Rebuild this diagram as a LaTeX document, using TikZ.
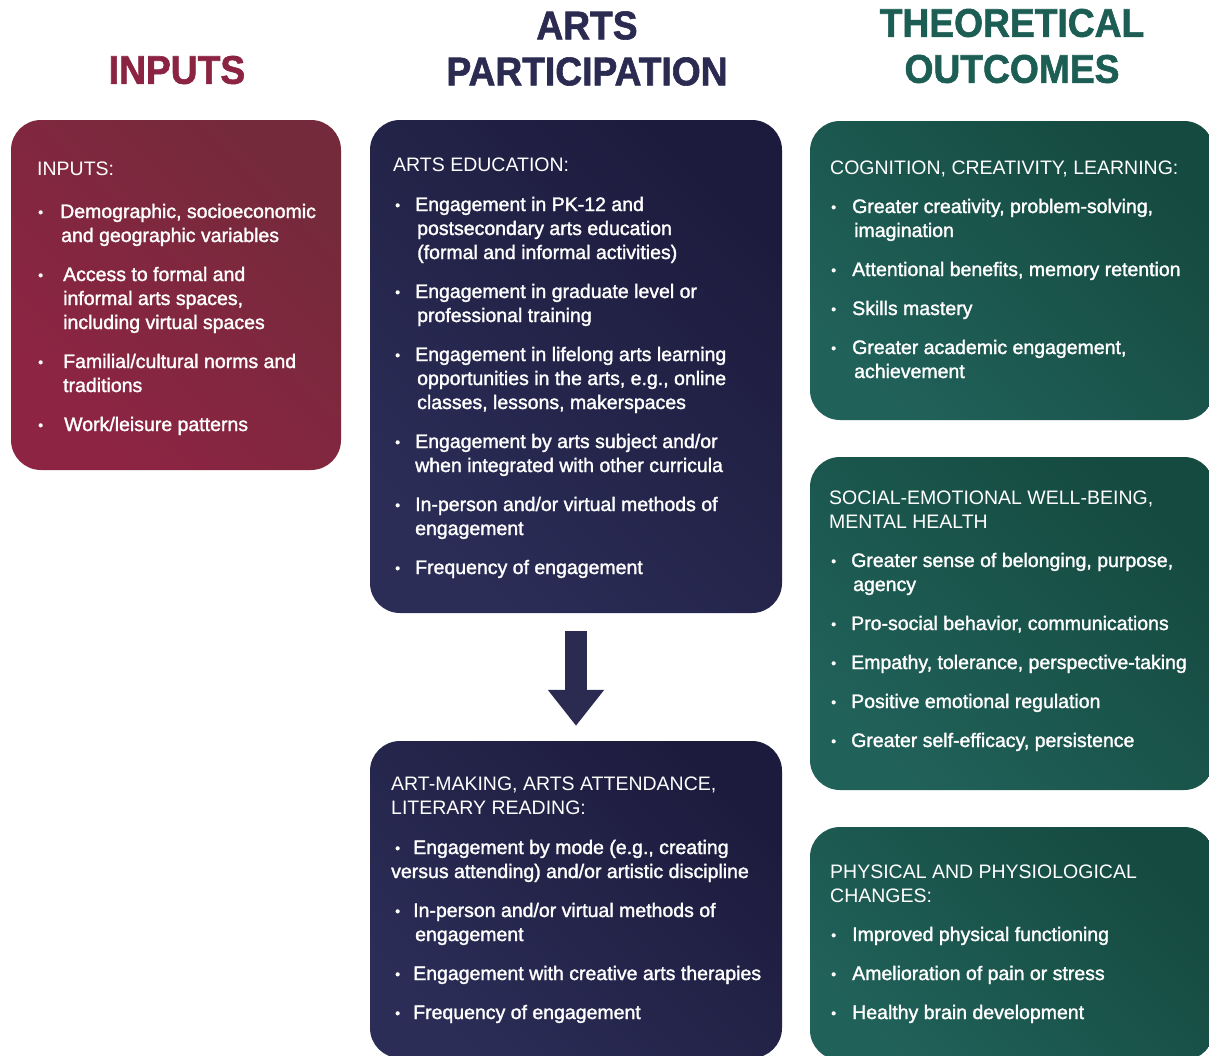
\documentclass[tikz,border=0pt]{standalone}
\usepackage{fontspec}
\setmainfont{Liberation Sans}
\newfontfamily\titlefont[FakeStretch=0.93, FakeBold=1.5]{Liberation Sans}
\newfontfamily\itemfont[FakeBold=1.6]{Liberation Sans}
\usetikzlibrary{arrows.meta}

\definecolor{inred}{HTML}{8B2342}
\definecolor{inredlt}{HTML}{8E2444}
\definecolor{inreddk}{HTML}{742A3A}
\definecolor{artnavy}{HTML}{2B2B52}
\definecolor{artnavylt}{HTML}{2B2D57}
\definecolor{artnavydk}{HTML}{1D1B3D}
\definecolor{outgreen}{HTML}{1D5E54}
\definecolor{outgreenlt}{HTML}{206159}
\definecolor{outgreendk}{HTML}{154A40}

\newcommand\bl[1][22pt]{\makebox[#1][l]{\raisebox{1pt}{\fontsize{14}{14}\selectfont •}}}
\newcommand\ind[1][22pt]{\hspace*{#1}}

\tikzset{
  box/.style={rectangle, rounded corners=30pt, inner sep=0pt},
  redbox/.style={box, top color=inredlt, bottom color=inreddk, shading angle=135},
  navybox/.style={box, top color=artnavylt, bottom color=artnavydk, shading angle=135},
  greenbox/.style={box, top color=outgreenlt, bottom color=outgreendk, shading angle=135},
  title/.style={align=center, font=\titlefont\bfseries\fontsize{40}{46}\selectfont},
  head/.style={text=white, align=left, anchor=base west, inner sep=0pt, font=\fontsize{19.5}{24}\selectfont},
  list/.style={text=white, align=left, anchor=base west, inner sep=0pt, font=\itemfont\fontsize{19.5}{24}\selectfont},
  bigarrow/.style={draw=artnavy, line width=22pt, shorten <=18pt, shorten >=15pt, -{Triangle[width=54pt,length=36pt]}}
}

\begin{document}
\begin{tikzpicture}[x=1pt, y=-1pt]
    \useasboundingbox (0,0) rectangle (1209,1055);
    \clip (0,0) rectangle (1209,1055);

    % column titles
    \node[title, text=inred] (tinputs) at (177,70) {INPUTS};
    \node[title, text=artnavy] (tarts) at (587,48.5) {ARTS\\PARTICIPATION};
    \node[title, text=outgreen] (toutcomes) at (1012,46) {THEORETICAL\\OUTCOMES};

    % boxes
    \node[redbox, minimum width=330pt, minimum height=350pt] (inputs) at (176,295) {};
    \node[navybox, minimum width=412pt, minimum height=493pt] (edu) at (576,366.5) {};
    \node[navybox, minimum width=412pt, minimum height=317pt] (make) at (576,899.5) {};
    \node[greenbox, minimum width=404pt, minimum height=299pt] (cog) at (1012,270.5) {};
    \node[greenbox, minimum width=404pt, minimum height=333pt] (social) at (1012,623.5) {};
    \node[greenbox, minimum width=404pt, minimum height=233pt] (phys) at (1012,943.5) {};

    \draw[bigarrow] (edu.south) -- (make.north);

    % texts sit on the baseline of their last line
    % inputs
    \node[head] (hinputs) at (37,175) {INPUTS:};
    \node[list] (linputs) at (38,431) {\bl Demographic, socioeconomic\\ \ind[23pt]and geographic variables\\[15pt]
      \bl[25pt]Access to formal and\\ \ind[25pt]informal arts spaces,\\ \ind[25pt]including virtual spaces\\[15pt]
      \bl[25pt]Familial/cultural norms and\\ \ind[25pt]traditions\\[15pt]
      \bl[26pt]Work/leisure patterns};

    % arts education
    \node[head] (hedu) at (393,171) {ARTS EDUCATION:};
    \node[list] (ledu) at (395,574) {\bl[20pt]Engagement in PK-12 and\\ \ind[22pt]postsecondary arts education\\ \ind[22pt](formal and informal activities)\\[15pt]
      \bl[20pt]Engagement in graduate level or\\ \ind[22pt]professional training\\[15pt]
      \bl[20pt]Engagement in lifelong arts learning\\ \ind[22pt]opportunities in the arts, e.g., online\\ \ind[22pt]classes, lessons, makerspaces\\[15pt]
      \bl[20pt]Engagement by arts subject and/or\\ \ind[20pt]when integrated with other curricula\\[15pt]
      \bl[20pt]In-person and/or virtual methods of\\ \ind[20pt]engagement\\[15pt]
      \bl[20pt]Frequency of engagement};

    % art-making
    \node[head] (hmake) at (391,814) {ART-MAKING, ARTS ATTENDANCE,\\LITERARY READING:};
    \node[list] (lmake) at (391,1019) {\ind[4pt]\bl[18pt]Engagement by mode (e.g., creating\\versus attending) and/or artistic discipline\\[15pt]
      \ind[4pt]\bl[18pt]In-person and/or virtual methods of\\ \ind[24pt]engagement\\[15pt]
      \ind[4pt]\bl[18pt]Engagement with creative arts therapies\\[15pt]
      \ind[4pt]\bl[18pt]Frequency of engagement};

    % outcomes
    \node[head] (hcog) at (830,174) {COGNITION, CREATIVITY, LEARNING:};
    \node[list] (lcog) at (831,378) {\bl[21pt]Greater creativity, problem-solving,\\ \ind[23pt]imagination\\[15pt]
      \bl[21pt]Attentional benefits, memory retention\\[15pt]
      \bl[21pt]Skills mastery\\[15pt]
      \bl[21pt]Greater academic engagement,\\ \ind[23pt]achievement};

    \node[head] (hsocial) at (829,528) {SOCIAL-EMOTIONAL WELL-BEING,\\MENTAL HEALTH};
    \node[list] (lsocial) at (831,747) {\bl[20pt]Greater sense of belonging, purpose,\\ \ind[22pt]agency\\[15pt]
      \bl[20pt]Pro-social behavior, communications\\[15pt]
      \bl[20pt]Empathy, tolerance, perspective-taking\\[15pt]
      \bl[20pt]Positive emotional regulation\\[15pt]
      \bl[20pt]Greater self-efficacy, persistence};

    \node[head] (hphys) at (830,902) {PHYSICAL AND PHYSIOLOGICAL\\CHANGES:};
    \node[list] (lphys) at (831,1019) {\bl[21pt]Improved physical functioning\\[15pt]
      \bl[21pt]Amelioration of pain or stress\\[15pt]
      \bl[21pt]Healthy brain development};
\end{tikzpicture}
\end{document}
